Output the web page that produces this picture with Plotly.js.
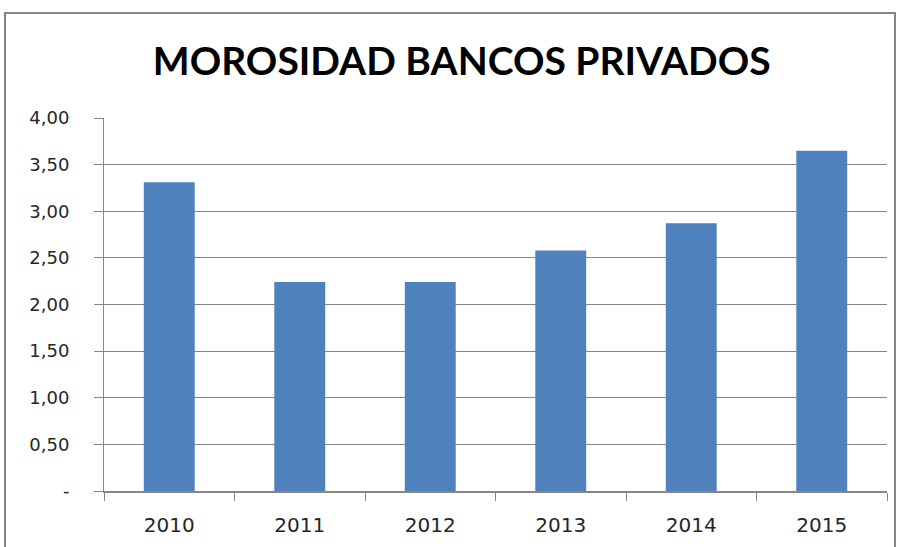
<!DOCTYPE html>
<html>
<head>
<meta charset="utf-8">
<script src="https://cdn.plot.ly/plotly-3.0.1.min.js"></script>
<style>
  html, body { margin: 0; padding: 0; background: #fff; }
  #wrap { position: relative; width: 900px; height: 547px; overflow: hidden; }
  #chart { position: absolute; left: 0; top: 0; width: 900px; height: 547px; }
  #frame { position: absolute; left: 4px; top: 12px; width: 892px; height: 560px;
           border: 2px solid #868686; pointer-events: none; box-sizing: border-box; }
</style>
</head>
<body>
<div id="wrap">
  <div id="chart"></div>
  <div id="frame"></div>
</div>
<script>
const years = ['2010', '2011', '2012', '2013', '2014', '2015'];
const morosidad = [3.31, 2.24, 2.24, 2.58, 2.87, 3.65];
const yTickVals = [0, 0.5, 1, 1.5, 2, 2.5, 3, 3.5, 4];
const yTickText = ['-', '0,50', '1,00', '1,50', '2,00', '2,50', '3,00', '3,50', '4,00'];
const chartTitle = 'MOROSIDAD BANCOS PRIVADOS';

const trace = {
  type: 'bar',
  x: years,
  y: morosidad,
  marker: { color: '#4F81BD', line: { width: 0 } },
  hoverinfo: 'x+y'
};

const layout = {
  width: 900,
  height: 547,
  margin: { l: 104, r: 13, t: 118, b: 56 },
  paper_bgcolor: '#ffffff',
  plot_bgcolor: '#ffffff',
  bargap: 0.61,
  showlegend: false,
  title: {
    text: '<b>' + chartTitle + '</b>',
    x: 0.513,
    xanchor: 'center',
    y: 0.887,
    yanchor: 'middle',
    font: { family: 'Lato, "Open Sans", sans-serif', size: 39, color: '#000000' }
  },
  font: { family: '"DejaVu Sans", "Liberation Sans", sans-serif', size: 18, color: '#262626' },
  xaxis: {
    type: 'category',
    tickson: 'boundaries',
    ticks: 'outside',
    ticklen: 8,
    tickcolor: '#868686',
    tickwidth: 1,
    showline: true,
    linecolor: '#868686',
    linewidth: 2,
    showgrid: false,
    ticklabelstandoff: 15,
    tickfont: { family: '"DejaVu Sans", sans-serif', size: 20, color: '#262626' }
  },
  yaxis: {
    range: [0, 4],
    tickmode: 'array',
    tickvals: yTickVals,
    ticktext: yTickText,
    ticks: 'outside',
    ticklen: 9,
    tickcolor: '#868686',
    tickwidth: 1,
    showline: true,
    linecolor: '#868686',
    linewidth: 1,
    showgrid: true,
    gridcolor: '#868686',
    gridwidth: 1,
    zeroline: false,
    ticklabelstandoff: 21,
    tickfont: { family: '"DejaVu Sans", sans-serif', size: 18, color: '#262626' }
  }
};

Plotly.newPlot('chart', [trace], layout, { displayModeBar: false, staticPlot: true });
</script>
</body>
</html>
